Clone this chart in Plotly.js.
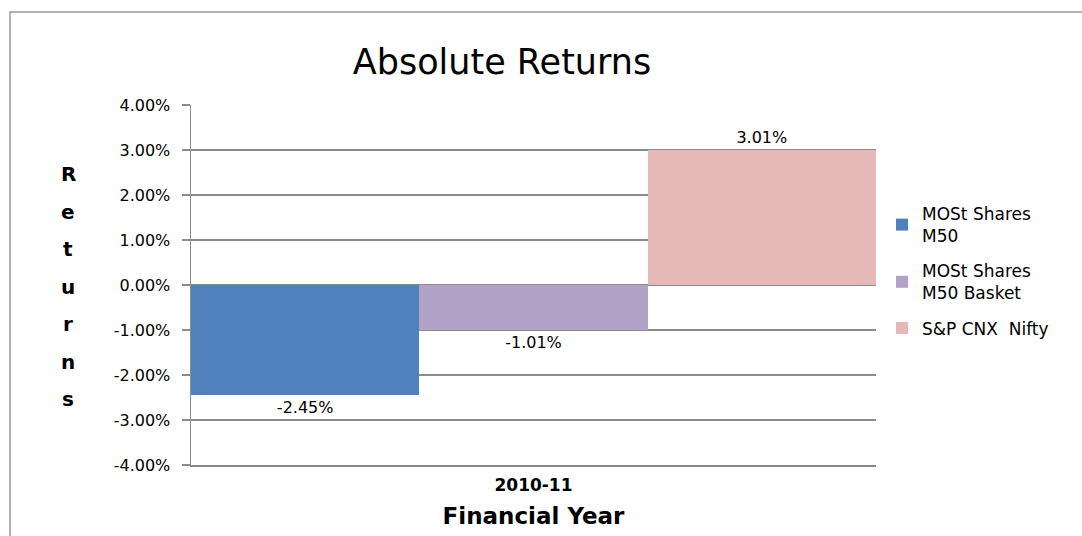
<!DOCTYPE html>
<html>
<head>
<meta charset="utf-8">
<script src="https://cdn.plot.ly/plotly-3.0.1.min.js"></script>
<style>html,body{margin:0;padding:0;background:#fff;}#chart{width:1082px;height:536px;}</style>
</head>
<body>
<div id="chart"></div>
<script>
// ---- data ----
const categories = ['2010-11'];
const seriesNames = ['MOSt Shares<br>M50', 'MOSt Shares<br>M50 Basket', 'S&P CNX  Nifty'];
const m50Returns = [-0.0245];
const basketReturns = [-0.0101];
const niftyReturns = [0.0301];
const seriesColors = ['#4F81BD', '#B3A2C7', '#E6B9B8'];
const yTickValues = [-0.04, -0.03, -0.02, -0.01, 0, 0.01, 0.02, 0.03, 0.04];
const yTitleText = 'Returns';

const FONT = 'DejaVu Sans, Verdana, sans-serif';
const pct = v => (v * 100).toFixed(2) + '%';
const allValues = [m50Returns, basketReturns, niftyReturns];

const traces = allValues.map((vals, i) => ({
  type: 'bar',
  name: seriesNames[i],
  legendgroup: 'g' + i,
  x: categories,
  y: vals,
  marker: {color: seriesColors[i], line: {width: 0}},
  text: vals.map(pct),
  textposition: 'outside',
  textfont: {family: FONT, size: 16, color: '#000'},
  cliponaxis: false,
  hoverinfo: 'none'
}));

// geometry of plot area in px
const W = 1082, H = 536;
const L = 191, R = 876, T = 105, B = 465;
const pw = R - L, ph = B - T;
const px2x = p => (p - L) / pw;
const px2y = p => (B - p) / ph;

const letters = yTitleText.split('');
const annotations = letters.map((ch, i) => ({
  text: '<b>' + ch + '</b>',
  xref: 'paper', yref: 'paper',
  x: px2x(68), y: px2y(174 + i * 37.5),
  xanchor: 'center', yanchor: 'middle',
  showarrow: false,
  font: {family: FONT, size: 20, color: '#000'}
}));

const layout = {
  width: W, height: H,
  margin: {l: L, r: W - R, t: T, b: H - B, pad: 0},
  paper_bgcolor: '#fff', plot_bgcolor: '#fff',
  title: {
    text: 'Absolute Returns',
    font: {family: FONT, size: 35, color: '#000'},
    x: 502 / W, xanchor: 'center',
    y: 1 - 62 / H, yanchor: 'middle'
  },
  barmode: 'group', bargap: 0, bargroupgap: 0,
  showlegend: true,
  legend: {
    x: px2x(882), y: px2y(196), xanchor: 'left', yanchor: 'top',
    font: {family: FONT, size: 17, color: '#000'},
    tracegroupgap: 10, itemwidth: 30,
    bgcolor: 'rgba(0,0,0,0)'
  },
  xaxis: {
    type: 'category',
    showgrid: false, zeroline: false,
    showline: true, linecolor: '#888', linewidth: 1.5,
    ticks: '', tickfont: {family: FONT, size: 17, color: '#000', weight: 'bold'},
    ticklabelstandoff: 4,
    title: {text: '<b>Financial Year</b>', font: {family: FONT, size: 23, color: '#000'}, standoff: 14},
    fixedrange: true
  },
  yaxis: {
    range: [-0.04, 0.04],
    tickmode: 'array', tickvals: yTickValues, ticktext: yTickValues.map(pct),
    showgrid: true, gridcolor: '#8c8c8c', gridwidth: 1.3,
    zeroline: true, zerolinecolor: '#8c8c8c', zerolinewidth: 1.3,
    showline: true, linecolor: '#8c8c8c', linewidth: 1.5,
    ticks: 'outside', ticklen: 8, tickcolor: '#8c8c8c', tickwidth: 1.3,
    ticklabelstandoff: 8,
    tickfont: {family: FONT, size: 16, color: '#000'},
    fixedrange: true
  },
  annotations: annotations,
  shapes: [{
    type: 'rect', xref: 'paper', yref: 'paper', layer: 'below',
    x0: px2x(10), x1: px2x(1100), y0: px2y(560), y1: px2y(12),
    line: {color: '#999', width: 1.5}, fillcolor: 'rgba(0,0,0,0)'
  }]
};

Plotly.newPlot('chart', traces, layout, {displayModeBar: false, staticPlot: true});
</script>
</body>
</html>
